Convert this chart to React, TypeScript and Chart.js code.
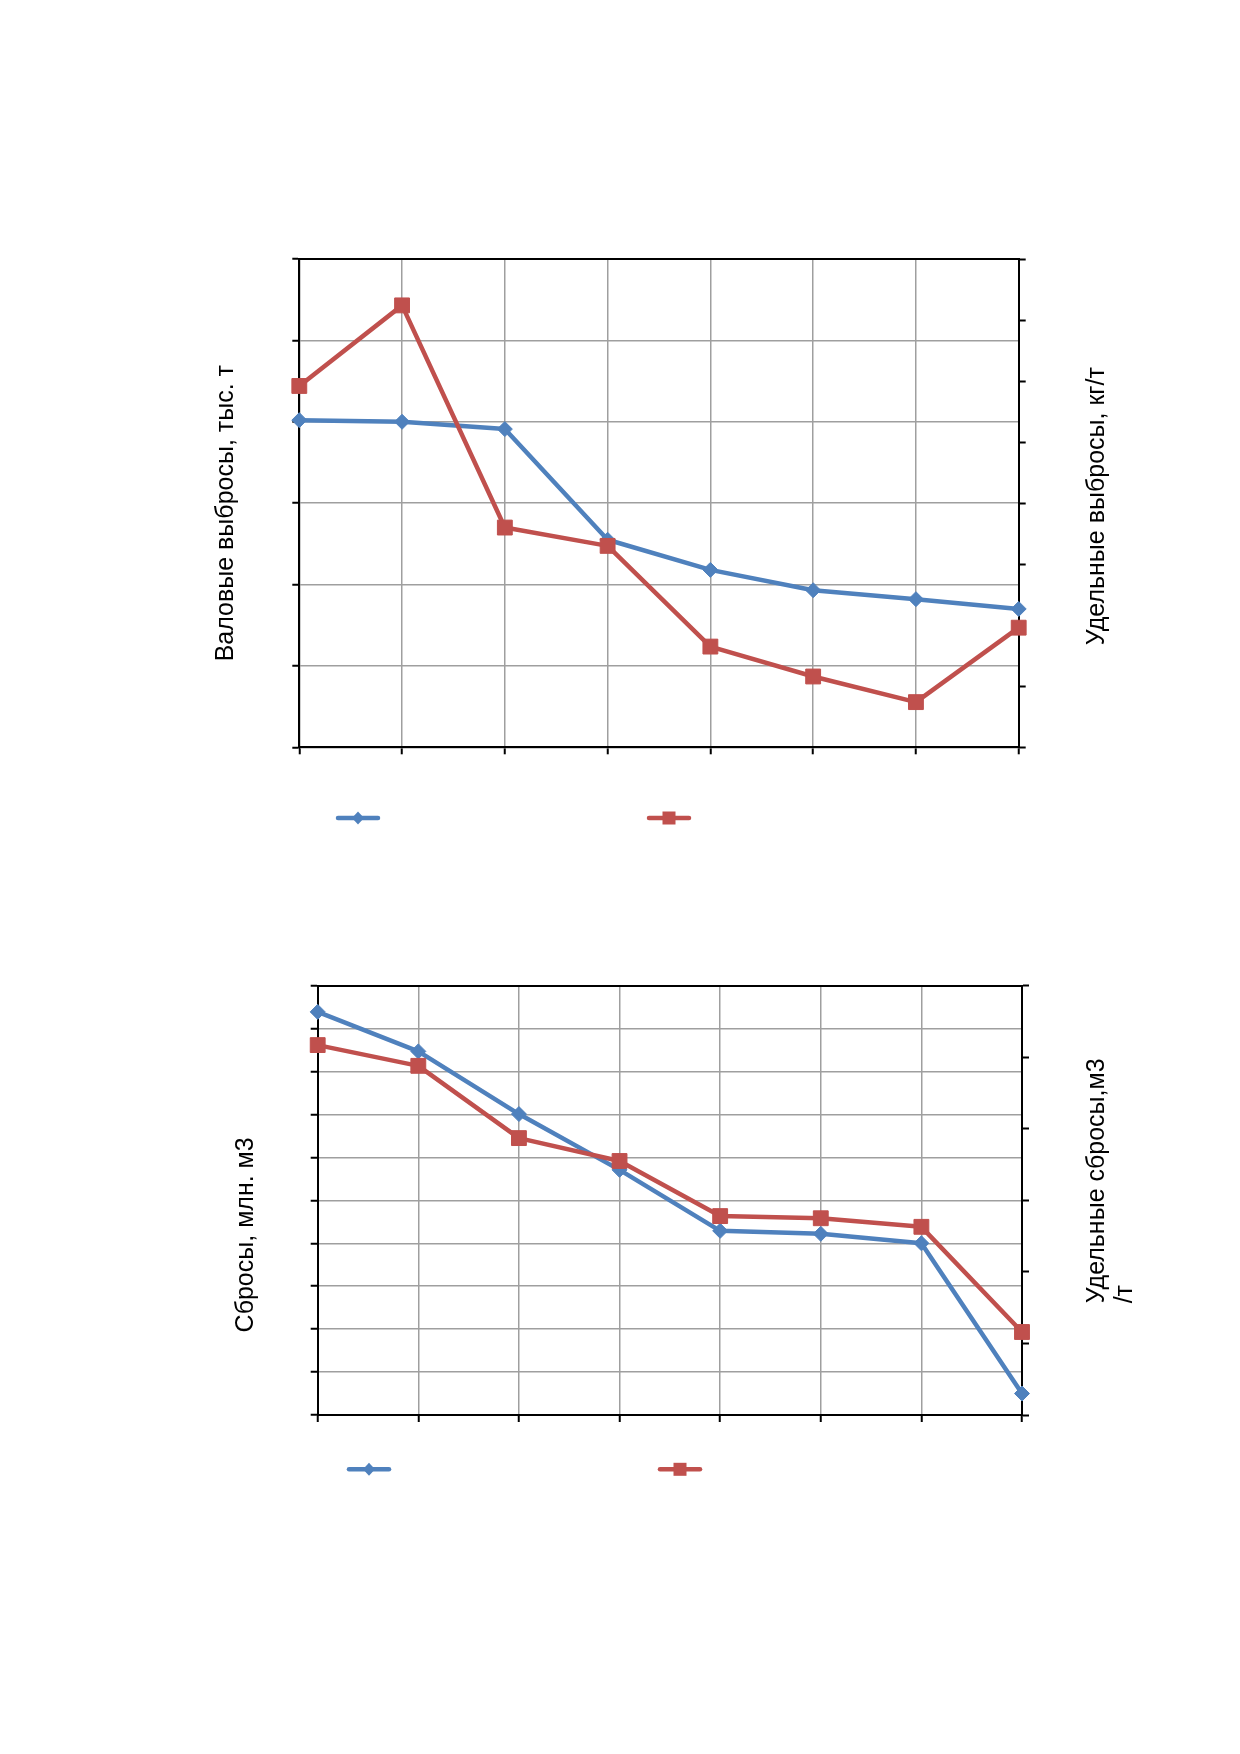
import React, { useEffect, useRef } from 'react';
import { Chart, registerables } from 'chart.js';

Chart.register(...registerables);

// --- data ---
const periods = ['1', '2', '3', '4', '5', '6', '7', '8'];

// air emissions
const grossEmissions = [40.2, 40.0, 39.1, 25.5, 21.8, 19.3, 18.2, 17.0];
const specificEmissions = [5.92, 7.24, 3.6, 3.3, 1.65, 1.16, 0.74, 1.96];
const grossEmissionsAxis = [0, 60, 10];
const specificEmissionsAxis = [0, 8, 1];

// waste water discharge
const discharges = [93.9, 84.7, 70.1, 57.1, 42.9, 42.2, 40.0, 5.0];
const specificDischarges = [5.17, 4.88, 3.87, 3.55, 2.78, 2.75, 2.63, 1.16];
const dischargesAxis = [0, 100, 10];
const specificDischargesAxis = [0, 6, 1];

const BLUE = '#4F81BD';
const RED = '#C0504D';
const GRID = '#9f9f9f';
const FONT = '25px "Liberation Sans", Arial, sans-serif';

type Title = { lines: string[]; side: 'left' | 'right'; dx: number; dy: number; align: CanvasTextAlign };
type Mark = { dx: number; dy: number };

// axis titles (rotated) and legend samples, placed relative to the plot area
function decorations(titles: Title[], marks: Mark[]) {
    return {
        id: 'decorations',
        afterDraw(chart: Chart) {
            const { ctx, chartArea } = chart;
            const midY = (chartArea.top + chartArea.bottom) / 2;
            ctx.save();
            ctx.font = FONT;
            ctx.fillStyle = '#000';
            ctx.textBaseline = 'middle';
            titles.forEach((t) => {
                const x = (t.side === 'left' ? chartArea.left : chartArea.right) + t.dx;
                ctx.save();
                ctx.translate(x, midY + t.dy);
                ctx.rotate(-Math.PI / 2);
                ctx.textAlign = t.align;
                t.lines.forEach((line, i) => ctx.fillText(line, 0, i * 28));
                ctx.restore();
            });

            chart.data.datasets.forEach((ds: any, i) => {
                const m = marks[i];
                if (!m) return;
                const cx = chartArea.left + m.dx;
                const cy = chartArea.bottom + m.dy;
                ctx.strokeStyle = ds.borderColor;
                ctx.fillStyle = ds.borderColor;
                ctx.lineWidth = 4.5;
                ctx.lineCap = 'round';
                ctx.beginPath();
                ctx.moveTo(cx - 20, cy);
                ctx.lineTo(cx + 20, cy);
                ctx.stroke();
                if (ds.pointStyle === 'rect') {
                    ctx.fillRect(cx - 6.5, cy - 6.5, 13, 13);
                } else {
                    ctx.beginPath();
                    ctx.moveTo(cx, cy - 6.5);
                    ctx.lineTo(cx + 6, cy);
                    ctx.lineTo(cx, cy + 6.5);
                    ctx.lineTo(cx - 6, cy);
                    ctx.closePath();
                    ctx.fill();
                }
            });
            ctx.restore();
        },
    };
}

interface PanelProps {
    left: number[];
    right: number[];
    leftAxis: number[];
    rightAxis: number[];
    padding: { left: number; right: number; top: number; bottom: number };
    titles: Title[];
    marks: Mark[];
}

const ChartPanel: React.FC<PanelProps> = ({ left, right, leftAxis, rightAxis, padding, titles, marks }) => {
    const canvasRef = useRef<HTMLCanvasElement>(null);

    useEffect(() => {
        if (!canvasRef.current) return;
        const tick = { tickColor: '#000', tickLength: 7, tickWidth: 2 };
        const border = { color: '#000', width: 2 };

        const chart = new Chart(canvasRef.current, {
            type: 'line',
            data: {
                labels: periods,
                datasets: [
                    {
                        data: left,
                        yAxisID: 'y',
                        borderColor: BLUE,
                        backgroundColor: BLUE,
                        pointBackgroundColor: BLUE,
                        pointBorderColor: BLUE,
                        pointStyle: 'rectRot',
                        pointRadius: 7.5,
                        pointBorderWidth: 1,
                        order: 2,
                    },
                    {
                        data: right,
                        yAxisID: 'y1',
                        borderColor: RED,
                        backgroundColor: RED,
                        pointBackgroundColor: RED,
                        pointBorderColor: RED,
                        pointStyle: 'rect',
                        pointRadius: 10.5,
                        pointBorderWidth: 1,
                        order: 1,
                    },
                ],
            },
            options: {
                responsive: false,
                devicePixelRatio: 1,
                animation: false,
                events: [],
                layout: { padding },
                elements: {
                    line: { borderWidth: 4.5, tension: 0, fill: false, borderJoinStyle: 'round' },
                },
                datasets: { line: { clip: false } as any },
                plugins: {
                    legend: { display: false },
                    tooltip: { enabled: false },
                },
                scales: {
                    x: {
                        type: 'category',
                        offset: false,
                        grid: { color: GRID, lineWidth: 1.5, ...tick },
                        border,
                        ticks: { display: false },
                    },
                    xTop: {
                        type: 'category',
                        position: 'top',
                        offset: false,
                        grid: { display: false, drawTicks: false },
                        border,
                        ticks: { display: false },
                    },
                    y: {
                        position: 'left',
                        min: leftAxis[0],
                        max: leftAxis[1],
                        grid: { color: GRID, lineWidth: 1.5, ...tick },
                        border,
                        ticks: { display: false, stepSize: leftAxis[2], autoSkip: false },
                    },
                    y1: {
                        position: 'right',
                        min: rightAxis[0],
                        max: rightAxis[1],
                        grid: { drawOnChartArea: false, ...tick },
                        border,
                        ticks: { display: false, stepSize: rightAxis[2], autoSkip: false },
                    },
                },
            },
            plugins: [decorations(titles, marks)],
        });

        return () => {
            chart.destroy();
        };
    }, [left, right, leftAxis, rightAxis, padding, titles, marks]);

    return <canvas ref={canvasRef} width={1240} height={877} style={{ display: 'block', width: 1240, height: 877 }} />;
};

const topTitles: Title[] = [
    { lines: ['Валовые выбросы, тыс. т'], side: 'left', dx: -73, dy: 10, align: 'center' },
    { lines: ['Удельные выбросы, кг/т'], side: 'right', dx: 78, dy: 3, align: 'center' },
];
const bottomTitles: Title[] = [
    { lines: ['Сбросы, млн. м3'], side: 'left', dx: -72, dy: 34.5, align: 'center' },
    { lines: ['Удельные сбросы,м3', '/т'], side: 'right', dx: 75, dy: 103, align: 'left' },
];
const topMarks: Mark[] = [{ dx: 58.7, dy: 70.7 }, { dx: 369.7, dy: 70.7 }];
const bottomMarks: Mark[] = [{ dx: 51.3, dy: 54.3 }, { dx: 362.3, dy: 54.3 }];

const topPadding = { left: 292.3, right: 214.3, top: 259, bottom: 122.7 };
const bottomPadding = { left: 310.7, right: 211, top: 108.7, bottom: 332 };

const App: React.FC = () => (
    <div style={{ position: 'absolute', left: 0, top: 0, width: 1240, height: 1754, background: '#fff' }}>
        <div style={{ position: 'absolute', left: 0, top: 0 }}>
            <ChartPanel
                left={grossEmissions}
                right={specificEmissions}
                leftAxis={grossEmissionsAxis}
                rightAxis={specificEmissionsAxis}
                padding={topPadding}
                titles={topTitles}
                marks={topMarks}
            />
        </div>
        <div style={{ position: 'absolute', left: 0, top: 877 }}>
            <ChartPanel
                left={discharges}
                right={specificDischarges}
                leftAxis={dischargesAxis}
                rightAxis={specificDischargesAxis}
                padding={bottomPadding}
                titles={bottomTitles}
                marks={bottomMarks}
            />
        </div>
    </div>
);

export default App;
